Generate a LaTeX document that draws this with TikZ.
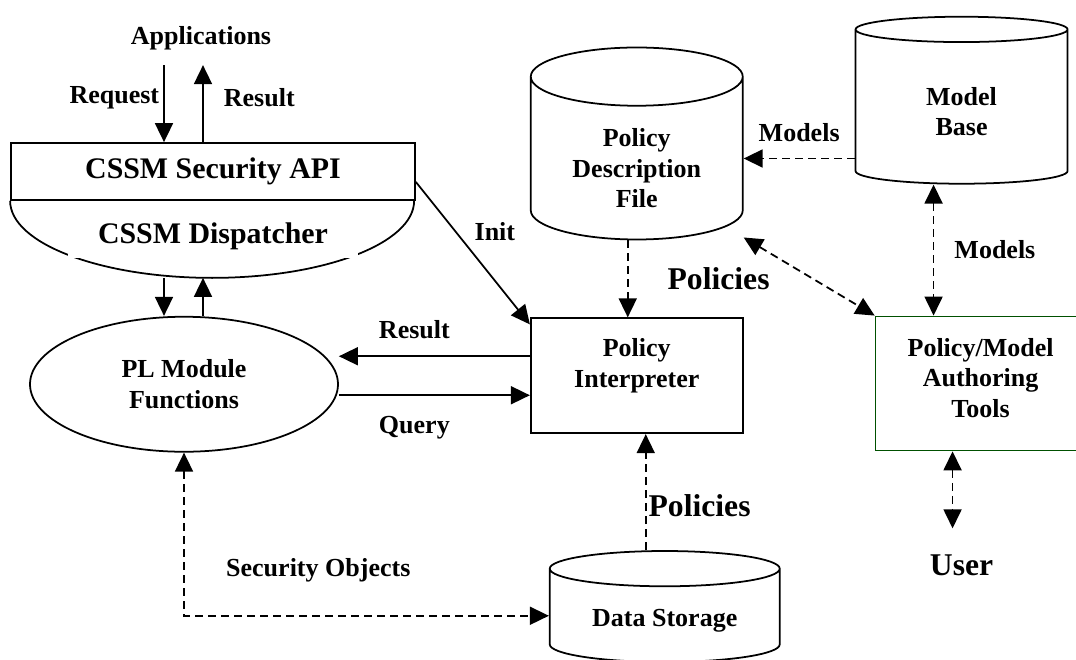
\documentclass[tikz,border=0pt]{standalone}
\usepackage{fontspec}
\setmainfont{Liberation Serif}
\usetikzlibrary{arrows.meta,shapes.geometric,positioning}
\definecolor{toolgreen}{RGB}{0,80,0}

\begin{document}
\begin{tikzpicture}
    [>={Triangle[length=0.38cm,width=0.36cm]},
    line width=1pt,
    font=\fontsize{14.8}{17.4}\selectfont\bfseries,
    flow/.style={->},
    dflow/.style={->, dash pattern=on 0.16cm off 0.1cm},
    lbl/.style={inner sep=0pt},
    biglbl/.style={inner sep=0pt, font=\fontsize{18}{21}\selectfont\bfseries},
    apibox/.style={rectangle, draw, minimum width=8.08cm, minimum height=1.14cm, font=\fontsize{17}{20}\selectfont\bfseries},
    module/.style={ellipse, draw, align=center, minimum width=6.16cm, minimum height=2.7cm, inner sep=0pt},
    process/.style={rectangle, draw, align=center, minimum width=4.24cm, minimum height=2.3cm},
    database/.style={cylinder, shape border rotate=90, draw, align=center, inner sep=0pt}]

    \useasboundingbox (0,0) rectangle (21.52,-13.2);

    % CSSM layer
    \node (api) [apibox] at (4.26,-3.43) {CSSM Security API};
    \draw (api.south west) arc[start angle=180, end angle=360, x radius=4.04cm, y radius=1.54cm];
    \coordinate (disp-base) at ([yshift=-1.54cm]api.south);
    \node (disp) [below=0.28cm of api, fill=white, minimum width=5.8cm, minimum height=0.84cm, inner sep=0pt, font=\fontsize{17}{20}\selectfont\bfseries] {CSSM Dispatcher};

    \node (apps) [lbl, above=1.54cm of api, xshift=-0.24cm, minimum height=1.04cm] {Applications};
    \draw[flow] ([xshift=-0.98cm]api.north |- apps.south) -- node[lbl, pos=0.42, left=0.08cm] {Request} ([xshift=-0.98cm]api.north);
    \draw[flow] ([xshift=-0.2cm]api.north) -- node[lbl, pos=0.58, right=0.4cm] {Result} ([xshift=-0.2cm]api.north |- apps.south);

    % module and interpreter
    \node (pl) [module, below=2.3cm of api, xshift=-0.58cm] {PL Module\\Functions};
    \draw[flow] ([xshift=-0.98cm]api.south |- disp-base) -- ([xshift=-0.98cm]api.south |- pl.north);
    \draw[flow] ([xshift=-0.2cm]api.south |- pl.north) -- ([xshift=-0.2cm]api.south |- disp-base);

    \node (pi) [process, right=3.82cm of pl, yshift=0.17cm, text depth=0.51cm] {Policy\\Interpreter};
    \draw[flow] ([yshift=-0.21cm]api.east) -- node[lbl, pos=0.35, right=0.36cm] {Init} ([yshift=-0.14cm]pi.north west);
    \draw[flow] ([yshift=0.39cm]pi.west) -- node[lbl, above=0.34cm, xshift=-0.4cm] {Result} ([yshift=0.39cm]pi.west -| pl.east);
    \draw[flow] ([yshift=-0.39cm]pi.west -| pl.east) -- node[lbl, below=0.4cm, xshift=-0.4cm] {Query} ([yshift=-0.39cm]pi.west);

    % policy stores (the rule pushes the text below the top cap)
    \node (pdf) [database, above=1.54cm of pi, minimum width=4.24cm, minimum height=3.84cm, aspect=0.453] {\rule{0pt}{0.75cm}Policy\\Description\\File};
    \node (mbase) [database, right=2.22cm of pdf, yshift=1.03cm, minimum width=4.24cm, minimum height=3.34cm, aspect=0.358] {\rule{0pt}{0.55cm}Model\\Base};
    \node (store) [database, below=2.32cm of pi, xshift=0.56cm, minimum width=4.6cm, minimum height=2.22cm, aspect=0.243] {\rule{0pt}{0.55cm}Data Storage};

    \draw[dflow] ([xshift=-0.18cm]pdf.south) -- node[biglbl, right=0.78cm] {Policies} ([xshift=-0.18cm]pdf.south |- pi.north);
    \draw[dflow] ([xshift=0.18cm]pi.south |- store.north) -- node[biglbl, pos=0.38, right=0.04cm] {Policies} ([xshift=0.18cm]pi.south);
    \draw[dflow, <->] (pl.south) |- node[lbl, pos=0.684, above=0.66cm] {Security Objects} (store.west);

    % authoring side
    \node (pm) [process, draw=toolgreen, minimum width=4.2cm, minimum height=2.68cm, below=2.62cm of mbase, xshift=0.38cm, text depth=0.22cm] {Policy/Model\\Authoring\\Tools};
    \node (user) [biglbl, below=1.54cm of pm, xshift=-0.38cm, minimum height=1.44cm] {User};

    \draw[dflow] (mbase.west |- pdf.east) -- node[lbl, above=0.32cm] {Models} (pdf.east);
    \draw[dflow, <->] ([xshift=-0.56cm]mbase.south) -- node[lbl, right=0.4cm] {Models} ([xshift=-0.56cm]mbase.south |- pm.north);
    \draw[dflow, <->] ([yshift=-1.58cm]pdf.east) -- (pm.north west);
    \draw[dflow, <->] ([xshift=-0.56cm]pm.south) -- ([xshift=-0.56cm]pm.south |- user.north);

\end{tikzpicture}
\end{document}
